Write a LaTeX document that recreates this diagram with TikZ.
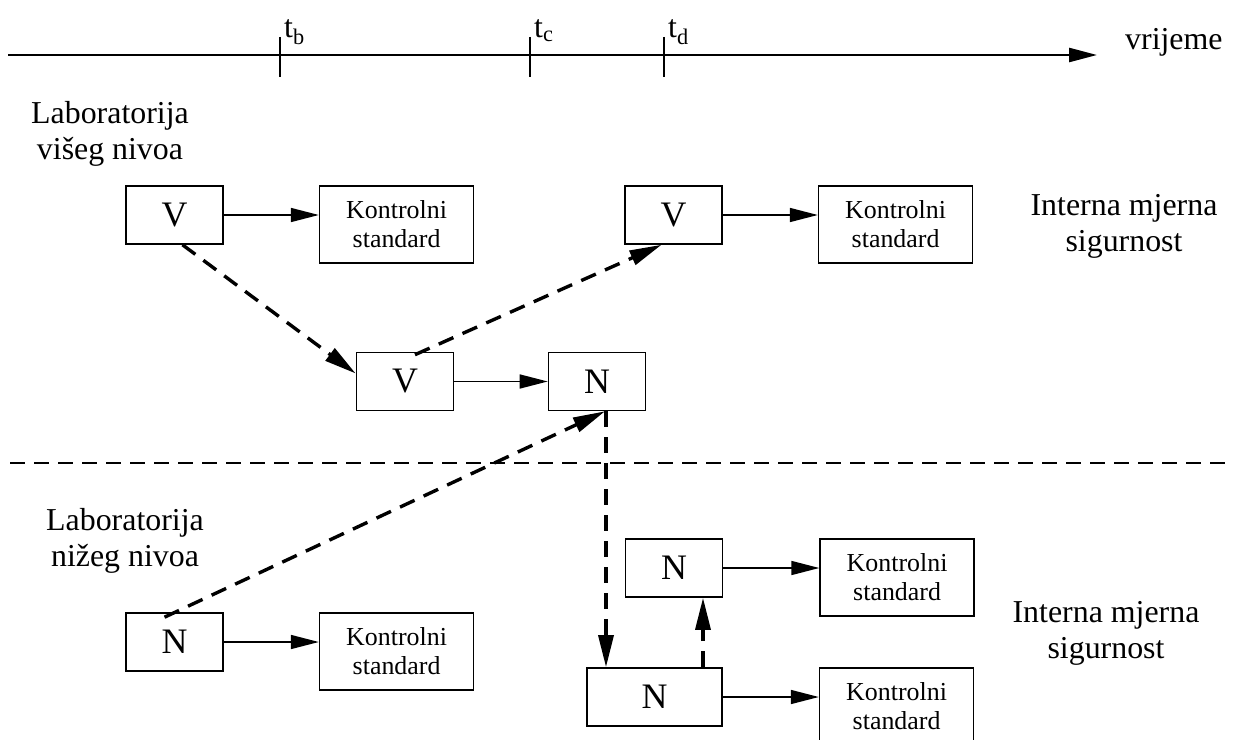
\documentclass[tikz,border=0pt]{standalone}
\usepackage{fontspec}
\setmainfont{Liberation Serif}
\usepackage{tikz}
\usetikzlibrary{arrows.meta, positioning, calc}

\begin{document}
\begin{tikzpicture}[
  x=1bp, y=-1bp,
  labbox/.style={
    draw,
    line width=1.6bp,
    inner sep=0pt,
    minimum width=97bp,
    minimum height=58bp,
    font=\fontsize{36}{40}\selectfont
    },
  ctrlbox/.style={
    draw,
    line width=1.6bp,
    inner sep=0pt,
    minimum width=154bp,
    minimum height=77bp,
    align=center,
    font=\fontsize{26}{29}\selectfont
    },
  lbl/.style={align=center, inner sep=0pt, font=\fontsize{32}{36}\selectfont},
  solidarr/.style={line width=1.6bp, -{Triangle[length=28bp,width=14bp]}},
  dasharr/.style={line width=3.4bp, dash pattern=on 16bp off 10bp,
    -{Triangle[length=32bp,width=15bp]}}
]
\useasboundingbox (0,0) rectangle (1234,740);

% Draw axes
\coordinate (axstart) at (8,55);
\coordinate (axend) at (1097,55);
\draw[line width=2.6bp,-{Triangle[length=28bp,width=14bp]}] (axstart) -- (axend);
\foreach \x/\t in {280/b,530/c,664/d}{
  \draw[line width=1.6bp] (\x,37) -- (\x,77);
  \node[lbl,anchor=base west] (t\t) at (\x+4,38) {t\textsubscript{\t}};
}
\node[lbl,anchor=base west] (time) at (1125,50) {vrijeme};

% upper laboratory
\node[lbl] (labhigh) at (110,134) {Laboratorija\\višeg nivoa};
\node[labbox] (V1) at (174.5,215) {V};
\node[ctrlbox, anchor=north west] (K1) at ([xshift=95bp]V1.north east) {Kontrolni\\standard};
\node[labbox] (V2) at (673.5,215) {V};
\node[ctrlbox, anchor=north west] (K2) at ([xshift=95bp]V2.north east) {Kontrolni\\standard};
\node[lbl] (imsHigh) at (1124,226) {Interna mjerna\\sigurnost};

\node[labbox] (V3) at (405,381.5) {V};
\node[labbox] (Nm) at (597,381.5) {N};

\draw[solidarr] (V1.east) -- (V1.east -| K1.west);
\draw[solidarr] (V2.east) -- (V2.east -| K2.west);
\draw[solidarr] (V3) -- (Nm);

% separation
\coordinate (sepL) at (10,463);
\coordinate (sepR) at (1225,463);
\draw[line width=1.6bp, dash pattern=on 15bp off 9bp] (sepL) -- (sepR);

% lower laboratory
\node[lbl] (lablow) at (125,541) {Laboratorija\\nižeg nivoa};
\node[labbox] (Nl) at (174.5,642) {N};
\node[ctrlbox, anchor=north west] (Kl) at ([xshift=95bp]Nl.north east) {Kontrolni\\standard};
\node[labbox] (Nu) at (674,568) {N};
\node[ctrlbox, anchor=north west] (Ku) at ([xshift=96bp]Nu.north east) {Kontrolni\\standard};
\node[labbox, minimum width=135bp] (Nb) at (654.5,697) {N};
\node[ctrlbox, anchor=north west] (Kb) at ([xshift=96bp]Nb.north east) {Kontrolni\\standard};
\node[lbl] (imsLow) at (1106,633) {Interna mjerna\\sigurnost};

\draw[solidarr] (Nl.east) -- (Nl.east -| Kl.west);
\draw[solidarr] (Nu.east) -- (Nu.east -| Ku.west);
\draw[solidarr] (Nb.east) -- (Nb.east -| Kb.west);

% transfer
\draw[dasharr] ([xshift=8bp]V1.south) -- ([yshift=8bp]V3.west);
\draw[dasharr] ([xshift=10bp,yshift=-3bp]V3.north) -- ([xshift=-12bp]V2.south);
\draw[dasharr] ([xshift=-10bp,yshift=-5bp]Nl.north) -- ([xshift=8bp]Nm.south);
\draw[dasharr] ([xshift=9bp]Nm.south) -- ([xshift=9bp]Nm.south |- Nb.north);
\draw[dasharr] ([xshift=29bp]Nu.south |- Nb.north) -- ([xshift=29bp]Nu.south);

\end{tikzpicture}
\end{document}
